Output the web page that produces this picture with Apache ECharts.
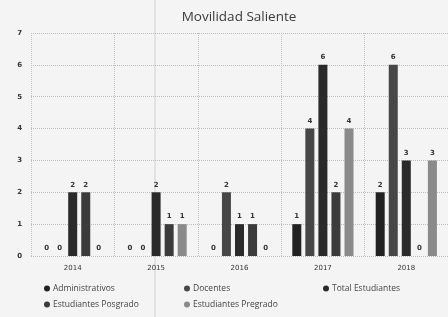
<!DOCTYPE html>
<html>
<head>
    <meta charset="utf-8">
    <title>Movilidad Saliente</title>
    <script src="https://cdn.jsdelivr.net/npm/echarts@6/dist/echarts.min.js"></script>
    <style>
        html, body { margin: 0; padding: 0; background: #f4f4f4; }
        #main { width: 448px; height: 317px; }
    </style>
</head>
<body>
<div id="main"></div>
<script>
    var years = ['2014', '2015', '2016', '2017', '2018'];
    var administrativos = [0, 0, 0, 1, 2];
    var docentes = [0, 0, 2, 4, 6];
    var totalEstudiantes = [2, 2, 1, 6, 3];
    var estPosgrado = [2, 1, 1, 2, 0];
    var estPregrado = [0, 1, 0, 4, 3];

    var names = ['Administrativos', 'Docentes', 'Total Estudiantes', 'Estudiantes Posgrado', 'Estudiantes Pregrado'];
    var colors = ['#222222', '#474747', '#2a2a2a', '#3b3b3b', '#8a8a8a'];
    var values = [administrativos, docentes, totalEstudiantes, estPosgrado, estPregrado];
    // legend slots (x, y) as in the picture
    var legendPos = [[44, 284], [184, 284], [323, 284], [44, 300], [184, 300]];

    var myChart = echarts.init(document.getElementById('main'));

    var series = [];
    var legends = [];
    for (var i = 0; i < names.length; i++) {
        series.push({
            name: names[i],
            type: 'bar',
            data: values[i],
            barWidth: 9,
            barGap: '45%',
            itemStyle: { color: colors[i] },
            label: {
                show: true,
                position: 'top',
                distance: 4,
                fontSize: 7,
                fontWeight: 'bold',
                color: '#333',
                fontFamily: 'DejaVu Sans'
            }
        });
        legends.push({
            data: [names[i]],
            left: legendPos[i][0],
            top: legendPos[i][1],
            icon: 'circle',
            itemWidth: 6,
            itemHeight: 6,
            itemGap: 4,
            padding: 0,
            textStyle: { fontSize: 8.5, color: '#444', fontFamily: 'Open Sans', padding: [0, 0, 0, -2] }
        });
    }

    var option = {
        backgroundColor: '#f4f4f4',
        animation: false,
        title: {
            text: 'Movilidad Saliente',
            left: 234,
            top: 5,
            textAlign: 'center',
            textStyle: { fontSize: 13.5, fontWeight: 'normal', color: '#3a3a3a', fontFamily: 'Open Sans' }
        },
        legend: legends,
        grid: { left: 31, top: 33, width: 420, bottom: 61 },
        xAxis: {
            type: 'category',
            data: years,
            axisLine: { show: false },
            axisTick: { show: false },
            axisLabel: { fontSize: 7, color: '#333', margin: 9, fontFamily: 'DejaVu Sans' },
            splitLine: { show: true, interval: 0, lineStyle: { color: '#c2c2c2', type: 'dotted' } }
        },
        yAxis: {
            type: 'value',
            min: 0,
            max: 7,
            interval: 1,
            axisLabel: { fontSize: 7, color: '#333', fontWeight: 'bold', margin: 9, fontFamily: 'DejaVu Sans' },
            splitLine: { lineStyle: { color: '#bdbdbd', type: 'dotted' } }
        },
        graphic: [{
            type: 'line',
            shape: { x1: 155, y1: 0, x2: 155, y2: 317 },
            style: { stroke: '#d0d0d0', lineWidth: 1 },
            silent: true
        }],
        series: series
    };

    myChart.setOption(option);
</script>
</body>
</html>
